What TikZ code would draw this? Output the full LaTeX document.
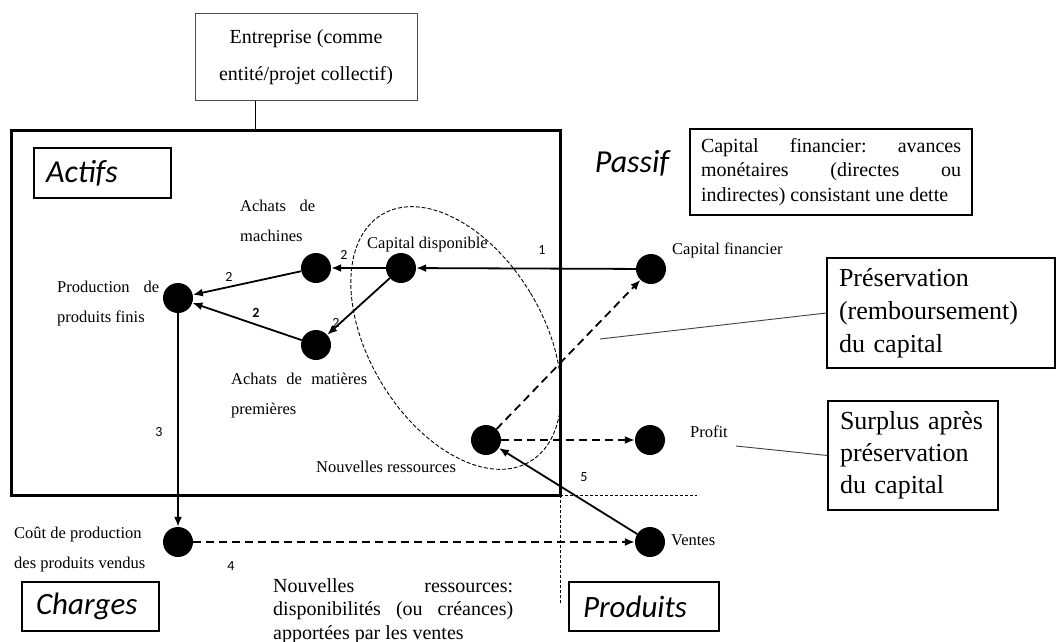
\documentclass[tikz,border=0pt]{standalone}
\usepackage{fontspec}
\setmainfont{Liberation Serif}
\newfontfamily\carl{Carlito}
\usetikzlibrary{arrows.meta}
\begin{document}
\begin{tikzpicture}[x=1pt,y=-1pt,
  dot/.style={circle,fill=black,minimum size=30pt,inner sep=0pt},
  lbl/.style={inner sep=0pt,anchor=west,align=left,font=\fontsize{16.5}{30}\selectfont},
  num/.style={inner sep=0pt,font=\carl\fontsize{14}{14}\selectfont},
  big/.style={inner sep=0pt,font=\carl\itshape\fontsize{32}{32}\selectfont},
  box/.style={draw,line width=1.3pt},
  arr/.style={-{Latex[length=10pt,width=8pt]},line width=1.8pt},
  darr/.style={arr,dash pattern=on 8pt off 5pt},
  sep/.style={line width=0.8pt,dash pattern=on 3pt off 2pt},
  ell/.style={line width=0.9pt,dash pattern=on 4pt off 2pt},
  lead/.style={line width=0.9pt,draw=black!75}
]
\useasboundingbox[fill=white] (0,0) rectangle (1057,642);

% boxes
\node[draw=black!70,line width=1pt,minimum width=222pt,minimum height=86pt,align=center,
      font=\fontsize{20}{37}\selectfont] (ent) at (306,57) {Entreprise (comme\\entité/projet collectif)};
\node[draw,line width=3pt,minimum width=549pt,minimum height=365pt] (main) at (285.5,312.5) {};
\coordinate (entfoot) at (255,130);
\draw[line width=1pt] (entfoot |- ent.south) -- (entfoot);

\node[box,minimum height=50pt,text width=113pt,inner xsep=12pt,inner ysep=0pt,align=left,
      font=\carl\itshape\fontsize{32}{32}\selectfont] (actifs) at (102.5,173) {Actifs};
\node[big] (passif) at (632,163) {Passif};
\node[box,minimum height=49pt,text width=109pt,inner xsep=14pt,inner ysep=0pt,align=left,
      font=\carl\itshape\fontsize{31}{31}\selectfont] (charges) at (90.5,606.5) {Charges};
\node[box,minimum height=49pt,text width=122pt,inner xsep=14pt,inner ysep=0pt,align=left,
      font=\carl\itshape\fontsize{31}{31}\selectfont] (produits) at (644,606.5) {Produits};

\node[box,inner xsep=11pt,inner ysep=0pt,minimum height=86pt,align=left,
      font=\fontsize{20}{24.5}\selectfont] (cfbox) at (831,172)
  {\hbox to 260pt{Capital\hfill financier:\hfill avances}\\\hbox to 260pt{monétaires\hfill (directes\hfill ou}\\\hbox to 260pt{indirectes) consistant une dette\hfil}};
\node[box,text width=204pt,inner xsep=12pt,inner ysep=0pt,minimum height=110pt,align=left,
      font=\fontsize{26}{33}\selectfont] (pres) at (941,313) {Préservation\\(remboursement)\\du capital};
\node[box,text width=146pt,inner xsep=12pt,inner ysep=0pt,minimum height=109pt,align=left,
      font=\fontsize{26}{32}\selectfont] (surplus) at (913,455.5) {Surplus après\\préservation\\du capital};
\node[inner sep=0pt,align=left,anchor=north west,font=\fontsize{20}{23.5}\selectfont] (nrtext) at (273,578)
  {\hbox to 240pt{Nouvelles\hfill ressources:}\\\hbox to 240pt{disponibilités\hfill (ou\hfill créances)}\\\hbox to 240pt{apportées par les ventes\hfil}};

% ellipse
\draw[ell,shift={(456,338)},rotate=31] (0,0) ellipse [x radius=87, y radius=144];

% separators
\coordinate (corner) at (560,495);
\coordinate (hend) at (697,495);
\coordinate (vend) at (560,603);
\draw[sep] (corner) -- (hend);
\draw[sep] (corner) -- (vend);

% dots
\node[dot] (cd) at (401,268) {};
\node[dot] (am) at (316,268) {};
\node[dot] (pf) at (178,298) {};
\node[dot] (mp) at (316,345) {};
\node[dot] (cf) at (651,269) {};
\node[dot] (nr) at (486,440) {};
\node[dot] (pr) at (650,440) {};
\node[dot] (ve) at (650,542) {};
\node[dot] (co) at (178,542) {};

% labels
\node[lbl] (lam) at (240,221) {\makebox[75pt][s]{Achats de}\\machines};
\node[lbl] (lcd) at (367,245) {Capital disponible};
\node[lbl] (lpf) at (57,304) {\makebox[102pt][s]{Production de}\\produits finis};
\node[lbl] (lmp) at (231,396) {\makebox[136pt][s]{Achats de matières}\\premières};
\node[lbl] (lcf) at (672,250) {Capital financier};
\node[lbl] (lpr) at (690,432) {Profit};
\node[lbl] (lve) at (671,540) {Ventes};
\node[lbl] (lnr) at (316,467) {Nouvelles ressources};
\node[lbl] (lco) at (14,550) {Coût de production\\des produits vendus};

% numbers
\node[num] (n1) at (542,250) {1};
\node[num] (n2a) at (344,255) {2};
\node[num] (n2b) at (229,277) {2};
\node[num,font=\carl\bfseries\fontsize{14}{14}\selectfont] (n2c) at (256,313) {2};
\node[num] (n2d) at (336,323) {2};
\node[num] (n3) at (159,432) {3};
\node[num] (n4) at (231,566) {4};
\node[num] (n5) at (584,477) {5};

% arrows
\draw[arr] (cf) -- (cd);
\draw[arr] (cd) -- (am);
\draw[arr] (cd) -- (mp);
\draw[arr] (am) -- (pf);
\draw[arr] (mp) -- (pf);
\draw[arr] (pf) -- (co);
\draw[darr] (co) -- (ve);
\draw[arr] (ve) -- (nr);
\draw[darr] (nr) -- (cf);
\draw[darr] (nr) -- (pr);

% leader lines
\coordinate (pc) at (600,339);
\coordinate (sc) at (736,446);
\draw[lead] (pres.west) -- (pc);
\draw[lead] (surplus.west) -- (sc);
\end{tikzpicture}
\end{document}
